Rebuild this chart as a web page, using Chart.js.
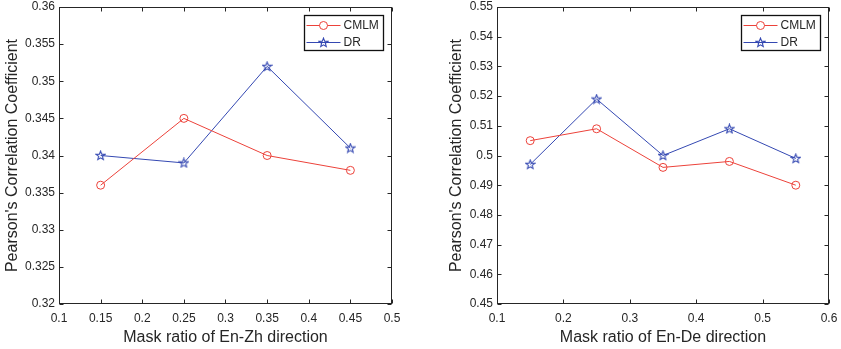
<!DOCTYPE html>
<html>
<head>
<meta charset="utf-8">
<script src="https://cdn.jsdelivr.net/npm/chart.js@4"></script>
<style>
  html, body { margin: 0; padding: 0; background: #fff; }
  #wrap { position: relative; width: 841px; height: 349px; }
  .box { position: absolute; top: 0; height: 349px; }
  #b1 { left: 0; width: 420px; }
  #b2 { left: 420px; width: 421px; }
</style>
</head>
<body>
<div id="wrap">
  <div class="box" id="b1"><canvas id="zh"></canvas></div>
  <div class="box" id="b2"><canvas id="de"></canvas></div>
</div>
<script>
// left panel: En-Zh
var zhRatio = [0.15, 0.25, 0.35, 0.45];
var zhCMLM = [0.336, 0.345, 0.340, 0.338];
var zhDR = [0.340, 0.339, 0.352, 0.341];
// right panel: En-De
var deRatio = [0.15, 0.25, 0.35, 0.45, 0.55];
var deCMLM = [0.505, 0.509, 0.496, 0.498, 0.490];
var deDR = [0.497, 0.519, 0.500, 0.509, 0.499];

var seriesNames = ['CMLM', 'DR'];
var RED = 'rgb(236,66,58)';
var BLUE = 'rgb(52,72,178)';
var INK = '#262626';
var FONT = '"Liberation Sans", Arial, Helvetica, sans-serif';

// five point star marker
function makeStar(color) {
  var c = document.createElement('canvas');
  c.width = 11; c.height = 11;
  var g = c.getContext('2d');
  g.strokeStyle = color;
  g.lineWidth = 1.1;
  g.beginPath();
  for (var i = 0; i < 10; i++) {
    var r = i % 2 === 0 ? 4.7 : 2.0;
    var a = -Math.PI / 2 + i * Math.PI / 5;
    var px = 5.5 + r * Math.cos(a), py = 5.8 + r * Math.sin(a);
    if (i === 0) g.moveTo(px, py); else g.lineTo(px, py);
  }
  g.closePath();
  g.stroke();
  return c;
}
var starImg = makeStar(BLUE);

function pts(xs, ys) {
  return xs.map(function (x, i) { return { x: x, y: ys[i] }; });
}

function trim(v) { return String(parseFloat(v.toFixed(4))); }

// matlab style box with inward ticks + legend inside
var framePlugin = {
  id: 'frame',
  afterDraw: function (chart) {
    var ctx = chart.ctx, a = chart.chartArea;
    var xs = chart.scales.x, ys = chart.scales.y;
    var L = Math.round(a.left) + 0.5, R = Math.round(a.right) - 0.5;
    var T = Math.round(a.top) + 0.5, B = Math.round(a.bottom) - 0.5;
    ctx.save();
    ctx.strokeStyle = INK;
    ctx.lineWidth = 1;
    ctx.strokeRect(L, T, R - L, B - T);
    ctx.beginPath();
    xs.ticks.forEach(function (t) {
      var p = Math.round(xs.getPixelForValue(t.value)) + 0.5;
      ctx.moveTo(p, B); ctx.lineTo(p, B - 4);
      ctx.moveTo(p, T); ctx.lineTo(p, T + 4);
    });
    ys.ticks.forEach(function (t) {
      var p = Math.round(ys.getPixelForValue(t.value)) + 0.5;
      ctx.moveTo(L, p); ctx.lineTo(L + 4, p);
      ctx.moveTo(R, p); ctx.lineTo(R - 4, p);
    });
    ctx.stroke();

    // legend
    var bw = 79, bh = 35;
    var bx = Math.round(a.right) - 9 - bw + 0.5, by = Math.round(a.top) + 8 + 0.5;
    ctx.fillStyle = '#fff';
    ctx.fillRect(bx, by, bw, bh);
    ctx.lineWidth = 1.3;
    ctx.strokeStyle = '#111';
    ctx.strokeRect(bx, by, bw, bh);
    ctx.font = '12px ' + FONT;
    ctx.textBaseline = 'middle';
    chart.data.datasets.forEach(function (ds, i) {
      var cy = by + 10 + i * 17;
      ctx.strokeStyle = ds.borderColor;
      ctx.lineWidth = 1;
      ctx.beginPath();
      ctx.moveTo(bx + 2, cy); ctx.lineTo(bx + 36, cy);
      ctx.stroke();
      Chart.helpers.drawPoint(ctx, {
        pointStyle: ds.pointStyle, radius: ds.pointRadius,
        borderWidth: 1, rotation: 0
      }, bx + 19, cy);
      ctx.fillStyle = INK;
      ctx.fillText(ds.label, bx + 39, cy + 0.5);
    });
    ctx.restore();
  }
};

function makeChart(id, xs, cmlm, dr, opt) {
  new Chart(document.getElementById(id), {
    type: 'line',
    data: {
      datasets: [{
        label: seriesNames[0],
        data: pts(xs, cmlm),
        borderColor: RED,
        backgroundColor: 'rgba(0,0,0,0)',
        borderWidth: 1,
        pointStyle: 'circle',
        pointRadius: 4,
        pointBorderWidth: 1,
        pointBorderColor: RED,
        pointBackgroundColor: 'rgba(0,0,0,0)',
        tension: 0
      }, {
        label: seriesNames[1],
        data: pts(xs, dr),
        borderColor: BLUE,
        backgroundColor: 'rgba(0,0,0,0)',
        borderWidth: 1,
        pointStyle: starImg,
        pointRadius: 5,
        tension: 0
      }]
    },
    options: {
      responsive: true,
      maintainAspectRatio: false,
      animation: false,
      events: [],
      layout: { padding: { top: 7, right: opt.padRight, left: 0, bottom: 0 } },
      plugins: { legend: { display: false }, tooltip: { enabled: false } },
      scales: {
        x: {
          type: 'linear',
          min: opt.xMin, max: opt.xMax,
          grid: { display: false, drawTicks: false },
          border: { display: false },
          ticks: {
            stepSize: opt.xStep, padding: 7, color: INK, maxRotation: 0,
            font: { family: FONT, size: 12 },
            callback: function (v) { return trim(v); }
          },
          title: {
            display: true, text: opt.xTitle, color: INK,
            font: { family: FONT, size: 16 },
            padding: { top: 0, bottom: 2 }
          },
          afterFit: function (s) { s.height = 45; s.paddingLeft = 0; s.paddingRight = 0; }
        },
        y: {
          min: opt.yMin, max: opt.yMax,
          grid: { display: false, drawTicks: false },
          border: { display: false },
          ticks: {
            stepSize: opt.yStep, padding: 4, color: INK,
            font: { family: FONT, size: 12 },
            callback: function (v) { return trim(v); }
          },
          title: {
            display: true, text: "Pearson's Correlation Coefficient", color: INK,
            font: { family: FONT, size: 16 },
            padding: { top: opt.yTitlePad, bottom: 0 }
          },
          afterFit: function (s) { s.width = opt.yWidth; s.paddingTop = 0; s.paddingBottom = 0; }
        }
      }
    },
    plugins: [framePlugin]
  });
}

makeChart('zh', zhRatio, zhCMLM, zhDR, {
  xMin: 0.1, xMax: 0.5, xStep: 0.05, yMin: 0.32, yMax: 0.36, yStep: 0.005,
  xTitle: 'Mask ratio of En-Zh direction', yWidth: 59, padRight: 28, yTitlePad: 3
});
makeChart('de', deRatio, deCMLM, deDR, {
  xMin: 0.1, xMax: 0.6, xStep: 0.1, yMin: 0.45, yMax: 0.55, yStep: 0.01,
  xTitle: 'Mask ratio of En-De direction', yWidth: 77, padRight: 12, yTitlePad: 27
});
</script>
</body>
</html>
